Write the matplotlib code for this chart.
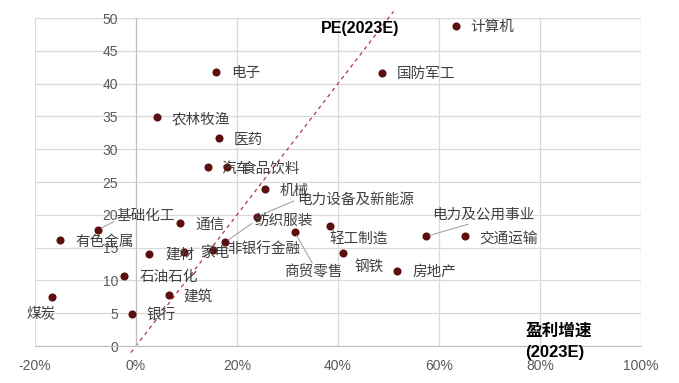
import matplotlib
matplotlib.use("Agg")
import matplotlib.pyplot as plt

plt.rcParams['font.family'] = ['Liberation Sans', 'Noto Sans CJK SC', 'DejaVu Sans']

# ---- data ----
industries = ["计算机", "国防军工", "电子", "农林牧渔", "医药", "汽车", "食品饮料", "机械",
              "电力设备及新能源", "基础化工", "通信", "纺织服装", "轻工制造", "电力及公用事业",
              "有色金属", "非银行金融", "交通运输", "建材", "家电", "商贸零售", "钢铁",
              "房地产", "石油石化", "煤炭", "建筑", "银行"]
growth = [63.4, 48.7, 15.8, 4.1, 16.4, 14.2, 18.0, 25.5,
          23.9, -7.6, 8.7, 17.6, 38.4, 57.4,
          -15.0, 15.2, 65.1, 2.6, 9.5, 31.4, 41.0,
          51.7, -2.4, -16.6, 6.5, -0.8]
pe = [48.8, 41.6, 41.8, 34.9, 31.7, 27.3, 27.3, 23.9,
      19.7, 17.7, 18.8, 15.8, 18.3, 16.7,
      16.2, 14.7, 16.7, 14.1, 14.3, 17.4, 14.2,
      11.5, 10.7, 7.4, 7.8, 4.9]
peg_line = [-1, 51]
xticks = [-20, 0, 20, 40, 60, 80, 100]
xticklabels = ["-20%", "0%", "20%", "40%", "60%", "80%", "100%"]
yticks = [0, 5, 10, 15, 20, 25, 30, 35, 40, 45, 50]

# ---- label styling (pixel offsets: dx right, dy down) ----
offsets_px = {
    "计算机": (14, 1), "国防军工": (15, 1), "电子": (15, 1), "农林牧渔": (15, 2),
    "医药": (15, 2), "汽车": (14, 2), "食品饮料": (15, 2), "机械": (15, 2),
    "电力设备及新能源": (40, -17), "基础化工": (19, -14), "通信": (15, 2),
    "纺织服装": (30, -21), "轻工制造": (-1, 14), "电力及公用事业": (6, -22),
    "有色金属": (15, 2), "非银行金融": (14, 0), "交通运输": (15, 2), "建材": (16, 1),
    "家电": (16, 1), "商贸零售": (-10, 41), "钢铁": (11, 14), "房地产": (15, 1),
    "石油石化": (16, 1), "煤炭": (-26, 16), "建筑": (15, 2), "银行": (15, 2),
}
leaders = {
    "电力设备及新能源": (0, 0.5), "基础化工": (0, 0.2), "纺织服装": (0, 0.5),
    "商贸零售": (0.5, 1.0), "电力及公用事业": (0.45, 0.0),
}

fig = plt.figure(figsize=(6.79, 3.83), dpi=100)
ax = fig.add_axes([35 / 679, 37 / 383, 606 / 679, 328 / 383])

ax.set_xlim(-20, 100)
ax.set_ylim(0, 50)
ax.set_xticks(xticks)
ax.set_xticklabels(xticklabels)
ax.set_yticks(yticks)

grid_c = '#d9d9d9'
ax.grid(True, color=grid_c, lw=0.9, zorder=0)
ax.set_axisbelow(True)
for s in ['top', 'right']:
    ax.spines[s].set_visible(False)
ax.spines['left'].set_position(('data', 0))
ax.spines['left'].set_color('#bfbfbf')
ax.spines['bottom'].set_color('#bfbfbf')
ax.tick_params(axis='both', length=0, labelsize=10, labelcolor='#595959')
ax.tick_params(axis='x', pad=9)
ax.tick_params(axis='y', pad=13)

# PEG = 1 reference line
ax.plot(peg_line, peg_line, ls=(0, (3, 3)), color='#b03a3a', lw=0.9,
        clip_on=False, zorder=2)

ax.scatter(growth, pe, s=34, color='#5b0f0f', zorder=4, linewidths=0)

for name, gx, gy in zip(industries, growth, pe):
    dx, dy = offsets_px[name]
    kw = {}
    if name in leaders:
        kw['arrowprops'] = dict(arrowstyle='-', color='#a6a6a6', lw=0.8,
                                shrinkA=0, shrinkB=3, relpos=leaders[name])
    ax.annotate(name, (gx, gy), xytext=(dx * 0.72, -dy * 0.72),
                textcoords='offset points', ha='left', va='center',
                fontsize=10.5, color='#404040',
                family=['Noto Sans CJK SC', 'DejaVu Sans'], zorder=5, **kw)

ax.text((321 - 35) / 606, (346 - 28) / 328, "PE(2023E)", transform=ax.transAxes,
        ha='left', va='center', fontsize=11.5, fontweight='bold', color='black')
ax.text((525 - 35) / 606, (346 - 331) / 328, "盈利增速", transform=ax.transAxes,
        ha='left', va='center', fontsize=12, fontweight='bold', color='black',
        family=['Noto Sans CJK SC', 'DejaVu Sans'])
ax.text((525 - 35) / 606, (346 - 353) / 328, "(2023E)", transform=ax.transAxes,
        ha='left', va='center', fontsize=12, fontweight='bold', color='black')

fig.savefig("out.png", dpi=100)
